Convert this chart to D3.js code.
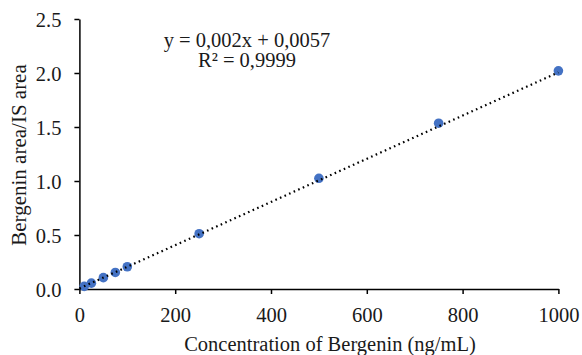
<!DOCTYPE html>
<html><head><meta charset="utf-8">
<script src="https://cdn.jsdelivr.net/npm/d3@7"></script>
<style>body{margin:0;background:#fff}svg{display:block}</style>
</head><body>
<script>
const concentrations = [10, 25, 50, 75, 100, 250, 500, 750, 1000];
const ratios = [0.024, 0.054, 0.105, 0.153, 0.206, 0.512, 1.025, 1.535, 2.02];
const xTicks = [0, 200, 400, 600, 800, 1000];
const yTicks = [0, 0.5, 1.0, 1.5, 2.0, 2.5];
const slope = 0.002, intercept = 0.0057;
const equationText = "y = 0,002x + 0,0057";
const r2Text = "R² = 0,9999";
const xTitle = "Concentration of Bergenin (ng/mL)";
const yTitle = "Bergenin area/IS area";

const W = 582, H = 355;
const svg = d3.select("body").append("svg").attr("width", W).attr("height", H)
  .style("font-family", "'Liberation Serif','Times New Roman',serif");
const x = d3.scaleLinear().domain([0, 1000]).range([79.4, 558.4]);
const y = d3.scaleLinear().domain([0, 2.5]).range([289, 19]);

const xa = svg.append("g").attr("transform", `translate(0,${y(0)})`)
  .call(d3.axisBottom(x).tickValues(xTicks).tickFormat(d3.format("d")).tickSize(5).tickSizeOuter(0));
const ya = svg.append("g").attr("transform", `translate(${x(0)},0)`)
  .call(d3.axisLeft(y).tickValues(yTicks).tickFormat(d3.format(".1f")).tickSize(5).tickSizeOuter(0));
[xa, ya].forEach(a => {
  a.attr("font-size", null).attr("font-family", null);
  a.selectAll("path,line").attr("stroke", "#000").attr("stroke-width", 1.5);
  a.selectAll("text").attr("fill", "#1a1a1a").style("font-size", "20.5px").style("font-family", "'Liberation Serif',serif");
});
xa.selectAll("text").attr("dy", null).attr("y", 32.5);
ya.selectAll("text").attr("x", -18).attr("dy", "0.35em");

const trend = () => svg.append("line")
  .attr("x1", x(0)).attr("y1", y(intercept))
  .attr("x2", x(1000)).attr("y2", y(slope * 1000 + intercept))
  .attr("stroke", "#000").attr("stroke-width", 2.2).attr("stroke-dasharray", "1.6 3.4");

svg.append("g").selectAll("circle").data(concentrations).join("circle")
  .attr("cx", d => x(d)).attr("cy", (d, i) => y(ratios[i])).attr("r", 4.8)
  .attr("fill", "#4472C4");
trend();

svg.append("text").attr("x", 247).attr("y", 46.5).attr("text-anchor", "middle")
  .style("font-size", "20.5px").attr("fill", "#1a1a1a").text(equationText);
svg.append("text").attr("x", 247).attr("y", 66.5).attr("text-anchor", "middle")
  .style("font-size", "20.5px").attr("fill", "#1a1a1a").text(r2Text);

svg.append("text").attr("x", 330).attr("y", 350.5).attr("text-anchor", "middle")
  .style("font-size", "20.5px").attr("fill", "#1a1a1a").text(xTitle);
svg.append("text").attr("transform", "translate(25.5,155) rotate(-90)").attr("text-anchor", "middle")
  .style("font-size", "21px").attr("fill", "#1a1a1a").text(yTitle);
</script>
</body></html>
